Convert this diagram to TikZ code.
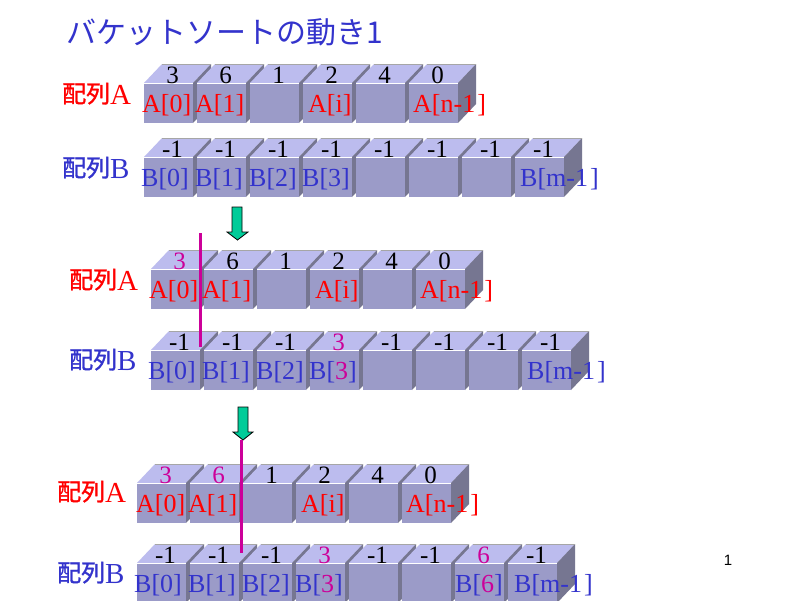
\documentclass[tikz,border=0pt]{standalone}
\usepackage{fontspec}
\setmainfont{Liberation Serif}
\newfontfamily\cjk{Noto Sans CJK JP}
\newfontfamily\cjkb[FakeBold=1.2]{Noto Sans CJK JP}
\newfontfamily\arialf{Liberation Sans}
\definecolor{frontc}{RGB}{155,155,200}
\definecolor{topc}{RGB}{188,188,238}
\definecolor{sidec}{RGB}{118,118,145}
\definecolor{labred}{RGB}{255,0,0}
\definecolor{labblue}{RGB}{51,51,204}
\definecolor{labmag}{RGB}{204,0,153}
\definecolor{arrowc}{RGB}{0,204,153}
\newcommand{\ca}{\color{labred}}
\newcommand{\cb}{\color{labblue}}
\newcommand{\cm}{\color{labmag}}
\tikzset{
  cube/.pic={
    \fill[frontc] (0,0) rectangle (49,40);
    \fill[topc] (0,0) -- (18,-19) -- (67,-19) -- (49,0) -- cycle;
    \fill[sidec] (49,0) -- (67,-19) -- (67,21) -- (49,40) -- cycle;
    \draw[white, line width=1pt] (0,0) -- (49,0);
    \draw[gray!70, line width=0.6pt] (18,-19) -- (67,-19);
  },
  numtxt/.style={anchor=base, inner sep=0pt, font=\fontsize{25}{29}\selectfont},
  labtxt/.style={anchor=base west, inner sep=0pt, font=\fontsize{26}{30}\selectfont},
  rowlab/.style={anchor=base west, inner sep=0pt, font=\fontsize{29}{33}\selectfont},
  downarrow/.style={fill=arrowc, draw=black, line width=0.8pt},
  marker/.style={draw=labmag, line width=3pt},
}
% #1 x, #2 front top y, #3 top text, #4 front text, #5 x offset of front text, #6 name
\newcommand{\cell}[6]{%
  \pic at (#1,#2) {cube};
  \node[numtxt] (#6t) at ({#1+28.5},#2) {#3};
  \node[labtxt] (#6f) at ({#1+#5},{#2+29}) {#4};
}
% #1 x, #2 baseline y, #3 letter, #4 colour, #5 name
\newcommand{\rowname}[5]{%
  \node[rowlab, text=#4] (#5) at (#1,#2) {{\cjkb\fontsize{24}{28}\selectfont\raisebox{1.5pt}{配列}}#3};
}
\begin{document}
\begin{tikzpicture}[x=1pt,y=-1pt]
\useasboundingbox (0,0) rectangle (800,600);
\fill[white] (0,0) rectangle (800,600);
% title
\node[anchor=base west, inner sep=0pt, text=labblue, font=\cjk\fontsize{30}{34}\selectfont] (title) at (66,43) {バケットソートの動き1};
% ---------- group 1
\rowname{62}{104}{A}{labred}{g1A}
\rowname{62}{178}{B}{labblue}{g1B}
\cell{144}{83}{3}{\ca A[0]}{-2}{a10}
\cell{197}{83}{6}{\ca A[1]}{-2}{a11}
\cell{250}{83}{1}{}{0}{a12}
\cell{303}{83}{2}{\ca A[i]}{5}{a13}
\cell{356}{83}{4}{}{0}{a14}
\cell{409}{83}{0}{\ca A[n-1\kern2pt]}{4}{a15}
\cell{144}{157}{-1}{\cb B[0]}{-3}{b10}
\cell{197}{157}{-1}{\cb B[1]}{-2}{b11}
\cell{250}{157}{-1}{\cb B[2]}{-1}{b12}
\cell{303}{157}{-1}{\cb B[3]}{-1}{b13}
\cell{356}{157}{-1}{}{0}{b14}
\cell{409}{157}{-1}{}{0}{b15}
\cell{462}{157}{-1}{}{0}{b16}
\cell{515}{157}{-1}{\cb B[m-1\kern2pt]}{5}{b17}
% arrow 1
\draw[downarrow] (232,207) coordinate (ar1) -- (242,207) -- (242,232) -- (248,232) -- (237.5,240) coordinate (ar1tip) -- (227,232) -- (232,232) -- cycle;
% ---------- group 2
\rowname{69}{290}{A}{labred}{g2A}
\rowname{69}{370}{B}{labblue}{g2B}
\cell{151}{269}{\cm 3}{\ca A[0]}{-2}{a20}
\cell{204}{269}{6}{\ca A[1]}{-2}{a21}
\cell{257}{269}{1}{}{0}{a22}
\cell{310}{269}{2}{\ca A[i]}{5}{a23}
\cell{363}{269}{4}{}{0}{a24}
\cell{416}{269}{0}{\ca A[n-1\kern2pt]}{4}{a25}
\cell{151}{350}{-1}{\cb B[0]}{-3}{b20}
\cell{204}{350}{-1}{\cb B[1]}{-2}{b21}
\cell{257}{350}{-1}{\cb B[2]}{-1}{b22}
\cell{310}{350}{\cm 3}{\cb B[{\cm 3}]}{-1}{b23}
\cell{363}{350}{-1}{}{0}{b24}
\cell{416}{350}{-1}{}{0}{b25}
\cell{469}{350}{-1}{}{0}{b26}
\cell{522}{350}{-1}{\cb B[m-1\kern2pt]}{5}{b27}
\coordinate (m1a) at (200,233);
\coordinate (m1b) at (200,347);
\draw[marker] (m1a) -- (m1b);
% arrow 2
\draw[downarrow] (238,407) coordinate (ar2) -- (248,407) -- (248,432) -- (253,432) -- (243,440) coordinate (ar2tip) -- (233,432) -- (238,432) -- cycle;
% ---------- group 3
\rowname{57}{502}{A}{labred}{g3A}
\rowname{57}{583}{B}{labblue}{g3B}
\cell{137}{483}{\cm 3}{\ca A[0]}{-1}{a30}
\cell{190}{483}{\cm 6}{\ca A[1]}{-2}{a31}
\cell{243}{483}{1}{}{0}{a32}
\cell{296}{483}{2}{\ca A[i]}{5}{a33}
\cell{349}{483}{4}{}{0}{a34}
\cell{402}{483}{0}{\ca A[n-1\kern2pt]}{4}{a35}
\cell{137}{563}{-1}{\cb B[0]}{-3}{b30}
\cell{190}{563}{-1}{\cb B[1]}{-2}{b31}
\cell{243}{563}{-1}{\cb B[2]}{-1}{b32}
\cell{296}{563}{\cm 3}{\cb B[{\cm 3}]}{-1}{b33}
\cell{349}{563}{-1}{}{0}{b34}
\cell{402}{563}{-1}{}{0}{b35}
\cell{455}{563}{\cm 6}{\cb B[{\cm 6}]}{0}{b36}
\cell{508}{563}{-1}{\cb B[m-1\kern2pt]}{6}{b37}
\coordinate (m2a) at (241,440);
\coordinate (m2b) at (241,553);
\draw[marker] (m2a) -- (m2b);
% page number
\node[anchor=base, inner sep=0pt, font=\arialf\fontsize{15}{18}\selectfont] (pagenum) at (728,565) {1};
\end{tikzpicture}
\end{document}
